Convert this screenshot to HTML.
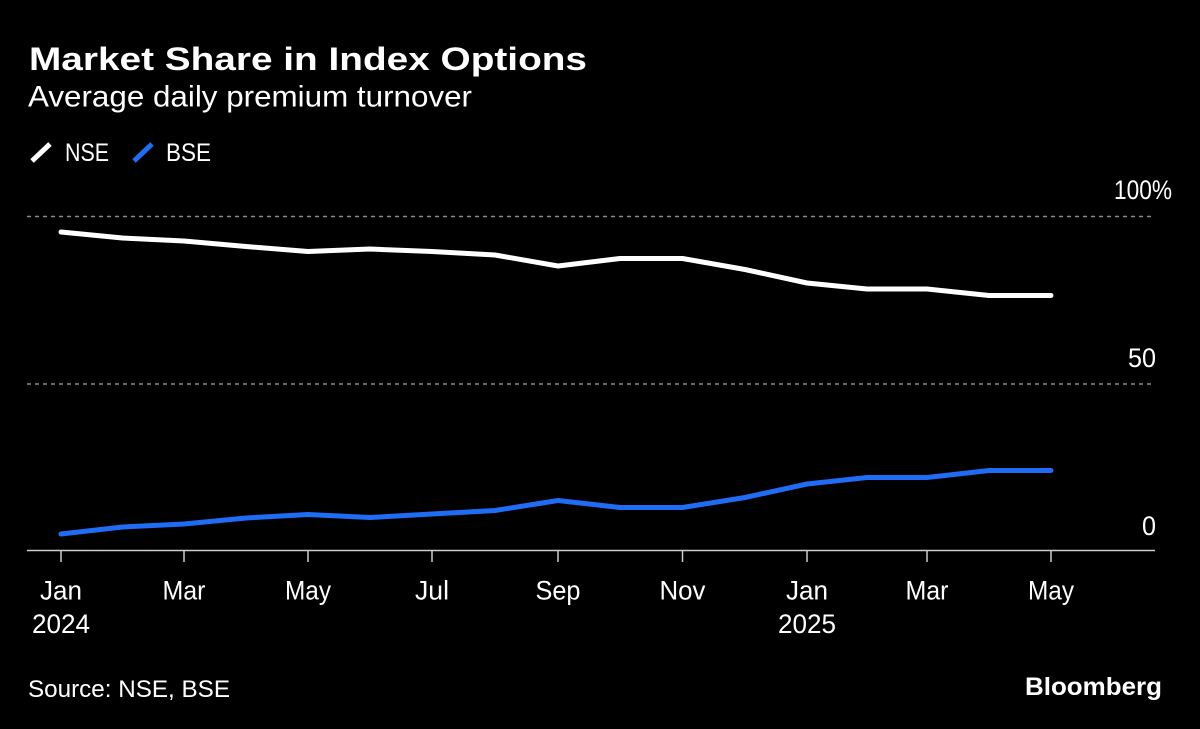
<!DOCTYPE html>
<html>
<head>
<meta charset="utf-8">
<style>
  html, body { margin: 0; padding: 0; background: #000; }
  body { width: 1200px; height: 729px; overflow: hidden; }
  svg { display: block; }
  text { font-family: "Liberation Sans", "DejaVu Sans", sans-serif; fill: #fff; }
</style>
</head>
<body>
<svg width="1200" height="729" viewBox="0 0 1200 729" xmlns="http://www.w3.org/2000/svg">
  <rect x="0" y="0" width="1200" height="729" fill="#000"/>

  <!-- Title & subtitle -->
  <text x="29" y="70" font-size="32.5" font-weight="bold" textLength="558" lengthAdjust="spacingAndGlyphs">Market Share in Index Options</text>
  <text x="28" y="106.5" font-size="30" textLength="444" lengthAdjust="spacingAndGlyphs">Average daily premium turnover</text>

  <!-- Legend -->
  <line x1="32" y1="161" x2="50" y2="144" stroke="#fff" stroke-width="5"/>
  <text x="65" y="161" font-size="25" textLength="44" lengthAdjust="spacingAndGlyphs">NSE</text>
  <line x1="134" y1="161" x2="152" y2="144" stroke="#1f6cf5" stroke-width="5"/>
  <text x="166" y="161" font-size="25" textLength="45" lengthAdjust="spacingAndGlyphs">BSE</text>

  <!-- Gridlines -->
  <line x1="27" y1="216.5" x2="1155" y2="216.5" stroke="#8a8a8a" stroke-width="1.5" stroke-dasharray="4 4"/>
  <line x1="27" y1="384" x2="1155" y2="384" stroke="#8a8a8a" stroke-width="1.5" stroke-dasharray="4 4"/>

  <!-- Y labels -->
  <text x="1114" y="199" font-size="27" textLength="58" lengthAdjust="spacingAndGlyphs">100%</text>
  <text x="1128" y="367" font-size="27" textLength="28" lengthAdjust="spacingAndGlyphs">50</text>
  <text x="1142" y="535" font-size="27" textLength="14" lengthAdjust="spacingAndGlyphs">0</text>

  <!-- Axis -->
  <line x1="27" y1="550.5" x2="1155" y2="550.5" stroke="#cccccc" stroke-width="1.5"/>
  <g stroke="#cccccc" stroke-width="1.5">
    <line x1="61" y1="550" x2="61" y2="562"/>
    <line x1="184" y1="550" x2="184" y2="562"/>
    <line x1="308" y1="550" x2="308" y2="562"/>
    <line x1="432" y1="550" x2="432" y2="562"/>
    <line x1="558" y1="550" x2="558" y2="562"/>
    <line x1="682.5" y1="550" x2="682.5" y2="562"/>
    <line x1="807" y1="550" x2="807" y2="562"/>
    <line x1="927" y1="550" x2="927" y2="562"/>
    <line x1="1051" y1="550" x2="1051" y2="562"/>
  </g>

  <!-- X labels -->
  <g font-size="26.5" text-anchor="middle">
    <text x="61" y="599.5" textLength="42" lengthAdjust="spacingAndGlyphs">Jan</text>
    <text x="61" y="633" textLength="58" lengthAdjust="spacingAndGlyphs">2024</text>
    <text x="184" y="599.5" textLength="43" lengthAdjust="spacingAndGlyphs">Mar</text>
    <text x="308" y="599.5" textLength="46" lengthAdjust="spacingAndGlyphs">May</text>
    <text x="432" y="599.5" textLength="34" lengthAdjust="spacingAndGlyphs">Jul</text>
    <text x="558" y="599.5" textLength="45" lengthAdjust="spacingAndGlyphs">Sep</text>
    <text x="682.5" y="599.5" textLength="46" lengthAdjust="spacingAndGlyphs">Nov</text>
    <text x="807" y="599.5" textLength="42" lengthAdjust="spacingAndGlyphs">Jan</text>
    <text x="807" y="633" textLength="58" lengthAdjust="spacingAndGlyphs">2025</text>
    <text x="927" y="599.5" textLength="43" lengthAdjust="spacingAndGlyphs">Mar</text>
    <text x="1051" y="599.5" textLength="46" lengthAdjust="spacingAndGlyphs">May</text>
  </g>

  <!-- NSE series -->
  <polyline fill="none" stroke="#ffffff" stroke-width="5" stroke-linejoin="round" stroke-linecap="round"
    points="61,232 122.5,238 184,241 246,246.5 308,251.5 370,249 432,251.5 495,255 558,266 620,258.5 682.5,258.5 745,269.5 807,283 867,289 927,289 989,295.5 1051,295.5"/>

  <!-- BSE series -->
  <polyline fill="none" stroke="#1f6cf5" stroke-width="5" stroke-linejoin="round" stroke-linecap="round"
    points="61,534 122.5,527 184,524 246,518 308,514.5 370,517.5 432,514 495,510.5 558,500.5 620,507.5 682.5,507.5 745,497.5 807,484 867,477.5 927,477.5 989,470.5 1051,470.5"/>

  <!-- Footer -->
  <text x="28" y="697" font-size="24" textLength="202" lengthAdjust="spacingAndGlyphs">Source: NSE, BSE</text>
  <text x="1025" y="695" font-size="25" font-weight="bold" textLength="137" lengthAdjust="spacingAndGlyphs">Bloomberg</text>
</svg>
</body>
</html>
